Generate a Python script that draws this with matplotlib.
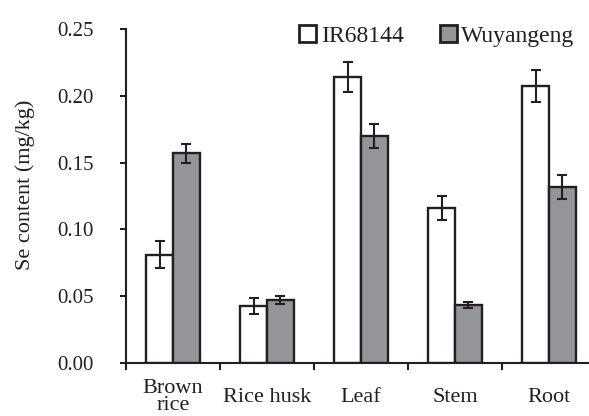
import matplotlib
matplotlib.use("Agg")
import matplotlib.pyplot as plt
import numpy as np
from matplotlib.patches import Patch

categories = ["Brown\nrice", "Rice husk", "Leaf", "Stem", "Root"]
series_names = ["IR68144", "Wuyangeng"]
ir_values = [0.081, 0.043, 0.214, 0.116, 0.207]
ir_errors = [0.010, 0.006, 0.011, 0.009, 0.012]
wy_values = [0.157, 0.047, 0.170, 0.0435, 0.132]
wy_errors = [0.007, 0.003, 0.009, 0.002, 0.009]
yticks = [0.00, 0.05, 0.10, 0.15, 0.20, 0.25]

W, H = 589, 416
plt.rcParams['font.family'] = ['Liberation Serif', 'DejaVu Serif']
edge = "#231f20"
gray = "#939598"
txt = "#231f20"

fig = plt.figure(figsize=(W / 100, H / 100), dpi=100)
ax = fig.add_axes([126 / W, (H - 363) / H, 470 / W, 334 / H])

x = np.arange(len(categories))
bw = 0.285
ax.bar(x - bw / 2, ir_values, bw, color="white", edgecolor=edge, linewidth=1.7,
       yerr=ir_errors, error_kw=dict(ecolor=edge, elinewidth=1.5, capsize=3.8, capthick=1.5))
ax.bar(x + bw / 2, wy_values, bw, color=gray, edgecolor=edge, linewidth=1.7,
       yerr=wy_errors, error_kw=dict(ecolor=edge, elinewidth=1.5, capsize=3.8, capthick=1.5))

ax.set_xlim(-0.5, len(categories) - 0.5)
ax.set_ylim(0, 0.25)
for s in ["top", "right"]:
    ax.spines[s].set_visible(False)
for s in ["left", "bottom"]:
    ax.spines[s].set_linewidth(1.5)
    ax.spines[s].set_color(edge)

ax.set_yticks(yticks)
ax.set_yticklabels([f"{v:.2f}" for v in yticks], fontsize=15, color=txt)
ax.tick_params(axis="y", direction="out", length=4.5, width=1.5, color=edge, pad=18.5)

ax.set_xticks(x)
ax.set_xticklabels(categories, fontsize=16, linespacing=0.92, color=txt)
ax.tick_params(axis="x", which="major", length=0, pad=24.5)
for lbl in ax.get_xticklabels():
    lbl.set_va("center")
ax.set_xticks(np.arange(len(categories) + 1) - 0.5, minor=True)
ax.tick_params(axis="x", which="minor", direction="out", length=5, width=1.5, color=edge)

fig.text(25 / W, 1 - 185 / H, "Se content (mg/kg)", rotation=90, ha="center", va="center",
         fontsize=16, color=txt)

handles = [Patch(facecolor="white", edgecolor=edge, linewidth=2.0),
           Patch(facecolor=gray, edgecolor=edge, linewidth=2.0)]
fig.legend(handles, series_names, loc="center", bbox_to_anchor=(437 / W, 1 - 36 / H),
           ncol=2, frameon=False, fontsize=17, handlelength=0.7, handleheight=0.7,
           handletextpad=0.2, columnspacing=1.55, borderpad=0, labelcolor=txt)

fig.savefig("out.png", dpi=100)
